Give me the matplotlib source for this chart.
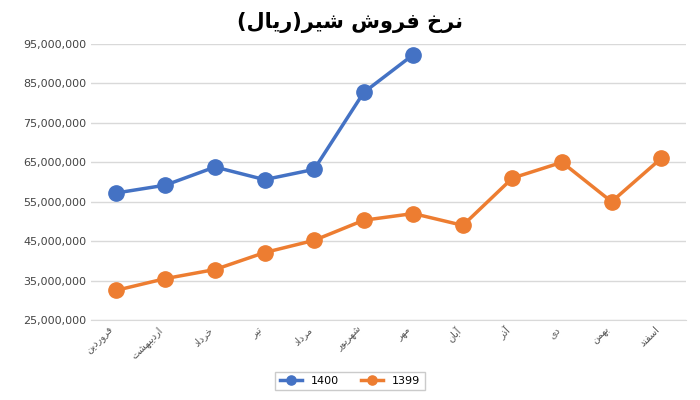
import matplotlib
matplotlib.use("Agg")
import matplotlib.pyplot as plt
from matplotlib.ticker import FuncFormatter

months = ["فروردین", "اردیبهشت", "خرداد", "تیر", "مرداد", "شهریور",
          "مهر", "آبان", "آذر", "دی", "بهمن", "اسفند"]
price_1400 = [57.2e6, 59.2e6, 63.8e6, 60.6e6, 63.2e6, 82.7e6, 92.3e6]
price_1399 = [32.5e6, 35.5e6, 37.8e6, 42.1e6, 45.2e6, 50.3e6, 52.0e6,
              49.0e6, 61.0e6, 65.0e6, 55.0e6, 66.0e6]
title = "نرخ فروش شیر(ریال)"

# minimal persian shaping: (isolated, final, initial, medial)
FORMS = {
    "ا": (0xFE8D, 0xFE8E), "آ": (0xFE81, 0xFE82),
    "د": (0xFEA9, 0xFEAA), "ذ": (0xFEAB, 0xFEAC),
    "ر": (0xFEAD, 0xFEAE), "ز": (0xFEAF, 0xFEB0),
    "و": (0xFEED, 0xFEEE),
    "ب": (0xFE8F, 0xFE90, 0xFE91, 0xFE92), "ت": (0xFE95, 0xFE96, 0xFE97, 0xFE98),
    "خ": (0xFEA5, 0xFEA6, 0xFEA7, 0xFEA8), "س": (0xFEB1, 0xFEB2, 0xFEB3, 0xFEB4),
    "ش": (0xFEB5, 0xFEB6, 0xFEB7, 0xFEB8), "ف": (0xFED1, 0xFED2, 0xFED3, 0xFED4),
    "ل": (0xFEDD, 0xFEDE, 0xFEDF, 0xFEE0), "م": (0xFEE1, 0xFEE2, 0xFEE3, 0xFEE4),
    "ن": (0xFEE5, 0xFEE6, 0xFEE7, 0xFEE8), "ه": (0xFEE9, 0xFEEA, 0xFEEB, 0xFEEC),
    "ی": (0xFBFC, 0xFBFD, 0xFBFE, 0xFBFF),
}


def shape(s):
    out = []
    for i, c in enumerate(s):
        if c not in FORMS:
            out.append({"(": ")", ")": "("}.get(c, c))
            continue
        f = FORMS[c]
        prev = s[i - 1] if i > 0 else ""
        nxt = s[i + 1] if i + 1 < len(s) else ""
        join_prev = prev in FORMS and len(FORMS[prev]) == 4
        join_next = len(f) == 4 and nxt in FORMS
        if join_prev and join_next:
            k = 3
        elif join_next:
            k = 2
        elif join_prev:
            k = 1
        else:
            k = 0
        out.append(chr(f[k]))
    return "".join(reversed(out))


plt.rcParams['font.family'] = ['DejaVu Sans']
fig, ax = plt.subplots(figsize=(7, 4), dpi=100)
fig.subplots_adjust(left=0.13, right=0.98, top=0.89, bottom=0.2)

blue = "#4472C4"
orange = "#ED7D31"
x1 = range(len(price_1400))
x2 = range(len(price_1399))
ax.plot(x1, price_1400, "-o", color=blue, lw=2.5, ms=11, label="1400", zorder=3)
ax.plot(x2, price_1399, "-o", color=orange, lw=2.5, ms=11, label="1399", zorder=3)

ax.set_ylim(25e6, 95e6)
ax.set_yticks([25e6 + 10e6 * i for i in range(8)])
ax.yaxis.set_major_formatter(FuncFormatter(lambda v, p: f"{v:,.0f}"))
ax.set_xlim(-0.5, len(months) - 0.5)
ax.set_xticks(range(len(months)))
ax.set_xticklabels([shape(m) for m in months], rotation=45, ha="right",
                   fontsize=7, color="#555555")
ax.tick_params(axis="y", labelsize=8, colors="#444444", length=0)
ax.tick_params(axis="x", length=0)
ax.grid(axis="y", color="#d9d9d9", lw=1)
ax.set_axisbelow(True)
for s in ["top", "right", "left"]:
    ax.spines[s].set_visible(False)
ax.spines["bottom"].set_color("#d9d9d9")

fig.suptitle(shape(title), fontsize=15, fontweight="bold", x=0.5, y=0.97)
fig.legend(loc="lower center", ncol=2, fontsize=8, frameon=True, markerscale=0.6,
           bbox_to_anchor=(0.5, 0.01), edgecolor="#bfbfbf", fancybox=False)

fig.savefig("out.png")
